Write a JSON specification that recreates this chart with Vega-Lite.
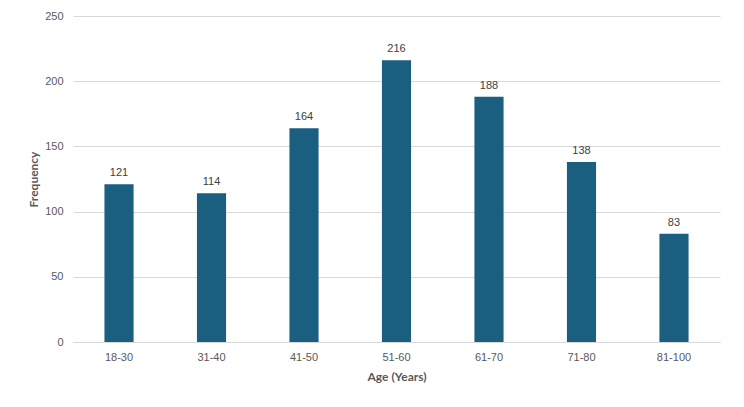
{
  "$schema": "https://vega.github.io/schema/vega-lite/v6.json",
  "width": 647,
  "height": 326,
  "autosize": {"type": "none"},
  "padding": {"left": 73, "top": 16, "right": 24, "bottom": 65},
  "background": "white",
  "config": {
    "view": {"stroke": null},
    "font": "Liberation Sans"
  },
  "data": {
    "values": [
      {"age": "18-30", "freq": 121},
      {"age": "31-40", "freq": 114},
      {"age": "41-50", "freq": 164},
      {"age": "51-60", "freq": 216},
      {"age": "61-70", "freq": 188},
      {"age": "71-80", "freq": 138},
      {"age": "81-100", "freq": 83}
    ]
  },
  "encoding": {
    "x": {
      "field": "age", "type": "nominal", "sort": null,
      "scale": {"paddingInner": 0.685, "paddingOuter": 0.34},
      "axis": {
        "title": "Age (Years)", "labelAngle": 0, "ticks": false,
        "domainColor": "#D9D9D9", "labelColor": "#595959", "labelFontSize": 11,
        "labelPadding": 9, "titleFont": "Lato", "titleFontSize": 12, "titleColor": "#595959",
        "titleFontWeight": "bold", "titlePadding": 9
      }
    },
    "y": {
      "field": "freq", "type": "quantitative",
      "scale": {"domain": [0, 250]},
      "axis": {
        "title": "Frequency", "values": [0, 50, 100, 150, 200, 250],
        "domain": false, "ticks": false, "gridColor": "#D9D9D9",
        "labelColor": "#595959", "labelFontSize": 11, "labelPadding": 10,
        "titleFont": "Lato", "titleFontSize": 12, "titleColor": "#595959", "titleFontWeight": "bold",
        "titlePadding": 4
      }
    }
  },
  "layer": [
    {"mark": {"type": "bar", "color": "#1A5E80"}},
    {
      "mark": {"type": "text", "dy": -11, "fontSize": 11, "color": "#404040"},
      "encoding": {"text": {"field": "freq", "type": "quantitative"}}
    }
  ]
}
